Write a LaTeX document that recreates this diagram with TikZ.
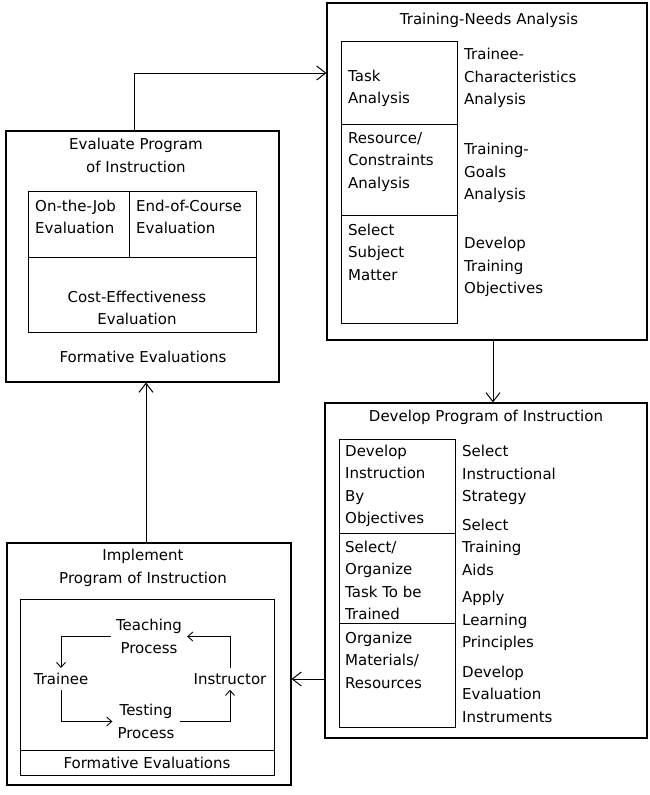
\documentclass[tikz,border=0pt]{standalone}
\usepackage{fontspec}
\setmainfont{DejaVu Sans}
\usepackage{tikz}
\usetikzlibrary{arrows.meta}

\begin{document}
\begin{tikzpicture}[x=1pt, y=-1pt,
  box/.style = {draw, line width=1.1pt, inner sep=0pt},
  cell/.style = {draw, line width=0.9pt, inner sep=0pt},
  txt/.style = {inner sep=0pt, align=left, font=\fontsize{15}{22.5}\selectfont},
  ctxt/.style = {txt, align=center},
  loopnode/.style = {ctxt, inner sep=5pt},
  bigarrow/.style = {line width=1pt, -{Straight Barb[length=9pt, width=14pt, line width=1pt]}},
  smallarrow/.style = {line width=0.9pt, -{Straight Barb[length=5pt, width=9pt, line width=0.9pt]}}]
\useasboundingbox (0,0) rectangle (650,795);

% outer boxes
\node[box, minimum width=320pt, minimum height=337pt] (tna) at (487,171.5) {};
\node[box, minimum width=273pt, minimum height=251pt] (eval) at (142.5,256.5) {};
\node[box, minimum width=322pt, minimum height=335pt] (dev) at (486,570.5) {};
\node[box, minimum width=284pt, minimum height=242pt] (impl) at (149,664) {};

% training-needs analysis
\node[ctxt] (tnatitle) at (489,20) {Training-Needs Analysis};
\node[cell, minimum width=116pt, minimum height=83pt] (tnaa) at (399,82.5) {};
\node[cell, minimum width=116pt, minimum height=91pt] (tnab) at (399,169.5) {};
\node[cell, minimum width=116pt, minimum height=108pt] (tnac) at (399,269) {};
\node[txt, anchor=west] (task) at (348,88.5) {Task\\Analysis};
\node[txt, anchor=west] (resource) at (348,162) {Resource/\\Constraints\\Analysis};
\node[txt, anchor=west] (subject) at (348,252) {Select\\Subject\\Matter};
\node[txt, anchor=west] (trainee) at (464,78) {Trainee-\\Characteristics\\Analysis};
\node[txt, anchor=west] (goals) at (464,173) {Training-\\Goals\\Analysis};
\node[txt, anchor=west] (objectives) at (464,267) {Develop\\Training\\Objectives};

% evaluate program of instruction
\node[ctxt] (evaltitle) at (136,155.5) {Evaluate Program\\of Instruction};
\node[cell, minimum width=101pt, minimum height=66pt] (job) at (78.5,224) {};
\node[cell, minimum width=127pt, minimum height=66pt] (course) at (192.5,224) {};
\node[cell, minimum width=228pt, minimum height=75pt] (cost) at (142,294.5) {};
\node[txt, anchor=west] (jobtxt) at (35,217) {On-the-Job\\Evaluation};
\node[txt, anchor=west] (coursetxt) at (136,217) {End-of-Course\\Evaluation};
\node[ctxt] (costtxt) at (137,308) {Cost-Effectiveness\\Evaluation};
\node[ctxt] (evalform) at (143,357) {Formative Evaluations};

% develop program of instruction
\node[ctxt] (devtitle) at (486,417) {Develop Program of Instruction};
\node[cell, minimum width=116pt, minimum height=94pt] (deva) at (397,486) {};
\node[cell, minimum width=116pt, minimum height=90pt] (devb) at (397,578) {};
\node[cell, minimum width=116pt, minimum height=104pt] (devc) at (397,675) {};
\node[txt, anchor=west] (byobj) at (345,486) {Develop\\Instruction\\By\\Objectives};
\node[txt, anchor=west] (organize) at (345,580.5) {Select/\\Organize\\Task To be\\Trained};
\node[txt, anchor=west] (materials) at (345,660) {Organize\\Materials/\\Resources};
\node[txt, anchor=west] (strategy) at (462,475) {Select\\Instructional\\Strategy};
\node[txt, anchor=west] (aids) at (462,547) {Select\\Training\\Aids};
\node[txt, anchor=west] (principles) at (462,621) {Apply\\Learning\\Principles};
\node[txt, anchor=west] (instruments) at (462,694) {Develop\\Evaluation\\Instruments};

% implement program of instruction
\node[ctxt] (impltitle) at (143,568) {Implement\\Program of Instruction};
\node[cell, minimum width=254pt, minimum height=151pt] (cycle) at (147,674.5) {};
\node[cell, minimum width=254pt, minimum height=25pt] (implform) at (147,762.5) {};
\node[ctxt] at (implform) {Formative Evaluations};
\node[loopnode] (teach) at (149,636.5) {Teaching\\Process};
\node[loopnode] (learner) at (61,679) {Trainee};
\node[loopnode] (instr) at (230,679) {Instructor};
\node[loopnode] (test) at (146,721.5) {Testing\\Process};

% cycle
\draw[smallarrow] (teach.west) -| (learner.north);
\draw[smallarrow] (learner.south) |- (test.west);
\draw[smallarrow] (test.east) -| (instr.south);
\draw[smallarrow] (instr.north) |- (teach.east);

% main flow
\draw[bigarrow] ([xshift=-8.5pt]eval.north) |- ([yshift=98.5pt]tna.west);
\draw[bigarrow] ([xshift=6pt]tna.south) -- ([xshift=7pt]dev.north);
\draw[bigarrow] ([yshift=-108.5pt]dev.west) -- ([yshift=-15pt]impl.east);
\draw[bigarrow] ([xshift=-3pt]impl.north) -- ([xshift=3.5pt]eval.south);
\end{tikzpicture}
\end{document}
